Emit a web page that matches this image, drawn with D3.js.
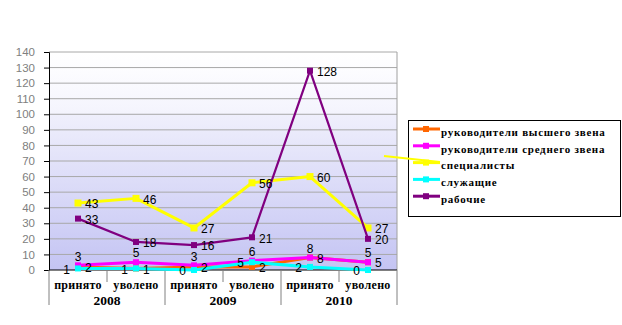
<!DOCTYPE html>
<html><head><meta charset="utf-8">
<script src="https://cdn.jsdelivr.net/npm/d3@7"></script>
<style>body{margin:0;background:#fff}svg{display:block}</style>
</head><body>
<svg id="c" width="622" height="325"></svg>
<script>
const categories = ["принято","уволено","принято","уволено","принято","уволено"];
const years = ["2008","2009","2010"];
const seriesNames = ["руководители высшего звена","руководители среднего звена","специалисты","служащие","рабочие"];
const seriesColors = ["#ff6600","#ff00ff","#ffff00","#00ffff","#800080"];
const topManagers = [2,1,2,2,8,5];
const midManagers = [3,5,3,6,8,5];
const specialists = [43,46,27,56,60,27];
const employees = [1,1,0,5,2,0];
const workers = [33,18,16,21,128,20];
const yTicks = [0,10,20,30,40,50,60,70,80,90,100,110,120,130,140];
const labelPos = ["right","above","right","left","right"];

const series = [topManagers, midManagers, specialists, employees, workers];
const svg = d3.select("#c");
const L = 49, R = 397, T = 52, B = 270;
const x = d3.scaleBand().domain(d3.range(categories.length)).range([L, R]).padding(0);
const y = d3.scaleLinear().domain([0,140]).range([B, T]);
const cx = i => x(i) + x.bandwidth()/2;

const defs = svg.append("defs");
const g = defs.append("linearGradient").attr("id","bg").attr("x1",0).attr("y1",0).attr("x2",0).attr("y2",1);
[[0,"#ffffff"],[0.07,"#fdfdff"],[0.28,"#f4f4fd"],[0.29,"#efeffc"],[1,"#c4c4f3"]].forEach(s=>g.append("stop").attr("offset",s[0]).attr("stop-color",s[1]));
svg.append("rect").attr("x",L).attr("y",T).attr("width",R-L).attr("height",B-T).attr("fill","url(#bg)");

// gridlines
svg.append("g").selectAll("line").data(yTicks.filter(d=>d>0)).join("line")
  .attr("x1",L).attr("x2",R).attr("y1",d=>y(d)).attr("y2",d=>y(d))
  .attr("stroke","#a8a8a8").attr("stroke-width",1);
svg.append("line").attr("x1",R).attr("x2",R).attr("y1",T).attr("y2",B).attr("stroke","#a0a0a0");

// y axis
const ya = svg.append("g").attr("transform",`translate(${L},0)`)
  .call(d3.axisLeft(y).tickValues(yTicks).tickSize(5).tickPadding(9));
ya.select(".domain").attr("stroke","#000");
ya.selectAll(".tick line").attr("stroke","#000");
ya.selectAll("text").attr("fill","#808080").style("font-family","Arial, 'Liberation Sans', sans-serif").style("font-size","11.5px");

// x axis
svg.append("line").attr("x1",L).attr("x2",R).attr("y1",B).attr("y2",B).attr("stroke","#000");
const xb = svg.append("g");
d3.range(categories.length+1).forEach(i=>{
  const xx = i < categories.length ? x(i) : R;
  const long = i % 2 === 0;
  xb.append("line").attr("x1",xx).attr("x2",xx).attr("y1",B).attr("y2", long ? 305 : 282)
    .attr("stroke", "#808080");
});
xb.selectAll("text.cat").data(categories).join("text").attr("class","cat")
  .attr("x",(d,i)=>cx(i)).attr("y",289).attr("text-anchor","middle")
  .style("font-family","'Liberation Serif', 'Times New Roman', serif").style("font-weight","bold")
  .style("font-size","12px").style("letter-spacing","0.3px").text(d=>d);
xb.selectAll("text.yr").data(years).join("text").attr("class","yr")
  .attr("x",(d,i)=>(x(i*2)+x(i*2+1)+x.bandwidth())/2).attr("y",305).attr("text-anchor","middle")
  .style("font-family","'Liberation Serif', 'Times New Roman', serif").style("font-weight","bold")
  .style("font-size","13.5px").text(d=>d);

// series lines
const line = d3.line().x((d,i)=>cx(i)).y(d=>y(d));
const widths = [3,3,3,3,2.2];
const msz = [6,6,7,6,6];
series.forEach((s,k)=>{
  svg.append("path").datum(s).attr("d",line).attr("fill","none")
    .attr("stroke",seriesColors[k]).attr("stroke-width",widths[k]).attr("stroke-linejoin","round");
  svg.append("g").selectAll("rect").data(s).join("rect")
    .attr("x",(d,i)=>cx(i)-msz[k]/2).attr("y",d=>y(d)-msz[k]/2)
    .attr("width",msz[k]).attr("height",msz[k]).attr("fill",seriesColors[k]);
});
// labels
series.forEach((s,k)=>{
  const pos = labelPos[k];
  svg.append("g").selectAll("text").data(s).join("text")
    .attr("x",(d,i)=> pos==="right" ? cx(i)+7 : pos==="left" ? cx(i)-8 : cx(i))
    .attr("y",d=> pos==="above" ? y(d)-9 : y(d)+1)
    .attr("dy","0.35em")
    .attr("text-anchor", pos==="right" ? "start" : pos==="left" ? "end" : "middle")
    .style("font-family","Arial, 'Liberation Sans', sans-serif").style("font-size","12px")
    .attr("fill","#000").text(d=>d);
});

// legend
const lg = svg.append("g");
lg.append("rect").attr("x",408.5).attr("y",120.5).attr("width",212).attr("height",96)
  .attr("fill","#fff").attr("stroke","#000").attr("stroke-width",1);
lg.append("polyline").attr("points","384,156 412,159 440,162").attr("fill","none")
  .attr("stroke","#ffff00").attr("stroke-width",2);
seriesNames.forEach((n,k)=>{
  const yy = 129 + k*16.8;
  lg.append("line").attr("x1",413).attr("x2",440).attr("y1",yy).attr("y2",yy)
    .attr("stroke",seriesColors[k]).attr("stroke-width",3);
  lg.append("rect").attr("x",423).attr("y",yy-3).attr("width",6).attr("height",6).attr("fill",seriesColors[k]);
  lg.append("text").attr("x",441).attr("y",yy+3).attr("dy","0.35em")
    .style("font-family","'Liberation Serif', 'Times New Roman', serif").style("font-weight","bold")
    .style("font-size","11px").style("letter-spacing","0.75px").text(n);
});
</script>
</body></html>
